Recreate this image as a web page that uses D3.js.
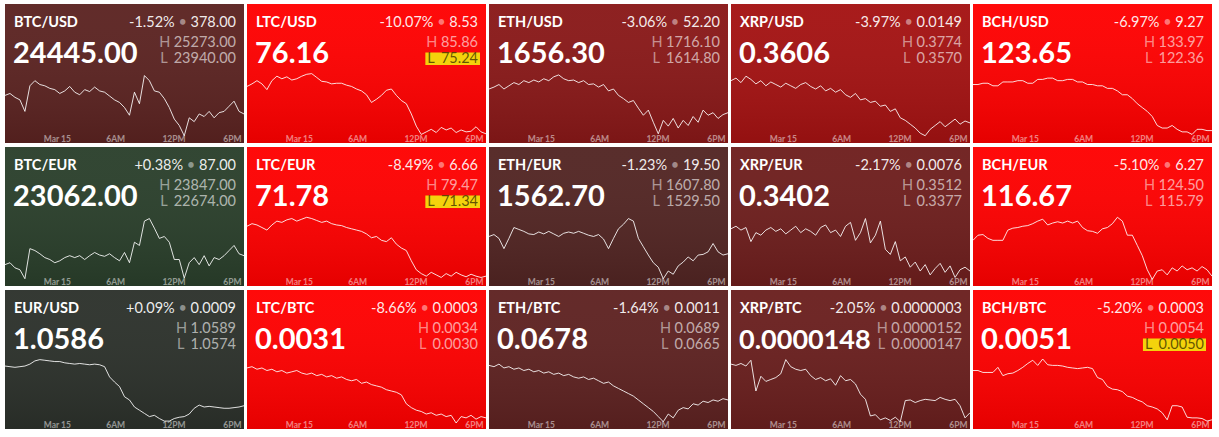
<!DOCTYPE html>
<html>
<head>
<meta charset="utf-8">
<script src="https://cdn.jsdelivr.net/npm/d3@7"></script>
<style>
  body { margin: 0; background: #fff; }
  svg { display: block; font-family: Lato, "Open Sans", sans-serif; }
</style>
</head>
<body>
<div id="board"></div>
<script>
var W = 1219, H = 437,
	tileW = 239,
	tileH = 139,
	pitchX = 242,
	pitchY = 143,
	left0 = 5,
	top0 = 4,
	cols = 5,
	rightX = 231;

// ticker values, row by row
var pairs = ["BTC/USD", "LTC/USD", "ETH/USD", "XRP/USD", "BCH/USD",
	"BTC/EUR", "LTC/EUR", "ETH/EUR", "XRP/EUR", "BCH/EUR",
	"EUR/USD", "LTC/BTC", "ETH/BTC", "XRP/BTC", "BCH/BTC"];
var lastPrices = ["24445.00", "76.16", "1656.30", "0.3606", "123.65",
	"23062.00", "71.78", "1562.70", "0.3402", "116.67",
	"1.0586", "0.0031", "0.0678", "0.0000148", "0.0051"];
var changePct = [-1.52, -10.07, -3.06, -3.97, -6.97,
	0.38, -8.49, -1.23, -2.17, -5.10,
	0.09, -8.66, -1.64, -2.05, -5.20];
var changeAbs = ["378.00", "8.53", "52.20", "0.0149", "9.27",
	"87.00", "6.66", "19.50", "0.0076", "6.27",
	"0.0009", "0.0003", "0.0011", "0.0000003", "0.0003"];
var highs = ["25273.00", "85.86", "1716.10", "0.3774", "133.97",
	"23847.00", "79.47", "1607.80", "0.3512", "124.50",
	"1.0589", "0.0034", "0.0689", "0.0000152", "0.0054"];
var lows = ["23940.00", "75.24", "1614.80", "0.3570", "122.36",
	"22674.00", "71.34", "1529.50", "0.3377", "115.79",
	"1.0574", "0.0030", "0.0665", "0.0000147", "0.0050"];
var lowAlert = [false, true, false, false, false,
	false, true, false, false, false,
	false, false, false, false, true];

// sparkline readings, position inside each day's range (0 = low, 100 = high)
var series = [
	[65,68,62,58,40,80,88,82,80,76,74,68,72,79,70,66,74,71,78,72,70,64,58,54,46,34,70,52,96,88,72,70,60,46,28,18,2,30,24,36,32,40,30,38,40,48,56,40,36],
	[79,83,88,83,74,88,95,91,94,89,91,95,98,99,93,87,86,83,84,84,81,79,75,72,66,54,59,65,73,75,65,57,52,36,17,4,8,12,7,15,11,14,7,11,8,9,16,8,5],
	[75,78,82,75,80,85,82,88,85,89,86,91,88,94,97,91,88,89,85,88,82,83,78,82,72,75,65,60,54,57,45,34,42,23,5,26,17,29,14,26,18,32,23,42,34,38,29,35,38],
	[88,92,85,95,90,83,88,80,86,82,78,84,80,76,82,85,79,75,80,72,76,70,74,66,62,68,58,60,54,56,48,50,40,44,30,26,20,14,6,2,12,18,24,16,22,28,20,25,22],
	[82,82,84,84,80,80,86,86,86,88,88,84,84,90,90,92,92,88,88,90,90,86,86,82,82,80,80,76,76,72,66,66,60,52,46,40,32,18,14,14,18,12,8,8,4,12,12,10,10],
	[24,27,19,16,2,49,46,41,35,32,27,30,35,38,35,38,32,38,43,39,37,41,35,30,43,27,59,54,92,96,81,65,68,59,32,32,3,27,35,24,38,22,35,32,38,46,54,41,38],
	[84,88,86,82,78,86,92,90,94,96,92,95,98,96,93,90,92,88,86,85,82,80,78,76,72,66,68,62,60,66,56,50,46,30,16,10,6,12,8,4,10,6,12,8,5,9,6,4,6],
	[68,71,65,49,65,82,79,76,72,71,75,72,76,72,68,73,75,73,76,73,70,68,71,64,49,65,80,87,96,92,65,52,39,27,20,2,14,9,22,28,36,30,39,40,44,57,44,39,41],
	[80,84,78,82,60,74,70,78,82,76,80,72,78,84,74,80,76,70,82,86,74,78,68,84,90,62,74,96,58,70,92,48,40,60,30,36,20,28,14,24,8,18,26,12,22,4,16,20,14],
	[62,70,71,65,62,62,62,78,81,82,84,85,88,92,95,86,89,91,89,92,89,92,82,77,76,73,80,82,88,98,92,70,70,54,38,16,1,14,16,8,19,14,22,16,19,14,21,16,6],
	[89,88,87,88,89,92,97,99,98,97,96,96,94,93,92,93,92,91,92,91,88,72,64,57,41,36,25,20,15,10,12,7,3,3,7,9,10,14,23,28,25,26,25,24,23,23,24,25,27],
	[86,88,84,86,82,84,80,82,78,80,82,78,76,78,74,76,72,74,70,72,68,66,68,62,64,60,58,56,52,50,48,44,30,24,20,18,14,16,12,14,10,12,0,10,8,12,6,10,8],
	[90,88,92,86,88,84,86,82,84,80,82,78,80,76,78,74,76,72,70,72,68,70,66,62,64,58,54,50,46,42,36,30,24,18,10,2,14,8,20,24,22,30,28,34,32,36,34,38,36],
	[92,90,93,89,98,50,73,65,68,71,77,99,88,84,82,84,74,68,71,66,69,59,74,66,68,61,45,37,11,13,5,8,4,9,2,35,36,32,35,37,36,35,40,37,35,37,27,8,16],
	[82,82,79,79,79,87,74,77,78,82,87,93,98,90,100,91,90,90,89,87,86,85,86,87,85,71,68,57,53,52,49,42,40,36,33,27,25,22,16,5,27,27,25,9,8,8,7,3,5]
];

var timeStart = new Date(2023, 2, 14, 18, 40),
	timeEnd = new Date(2023, 2, 15, 19, 15);
var tickTimes = [new Date(2023, 2, 15, 0), new Date(2023, 2, 15, 6),
	new Date(2023, 2, 15, 12), new Date(2023, 2, 15, 18)];
var tickLabels = ["Mar 15", "6AM", "12PM", "6PM"];

// moves past -5% turn the tile full red
var tileColor = d3.scaleLinear()
	.domain([-5, -4.9, 0, 2])
	.range(["#ff0000", "#c00c0c", "#2d2d2b", "#1f8a2a"])
	.clamp(true);

var x = d3.scaleTime().domain([timeStart, timeEnd]).range([0, tileW]);
var y = d3.scaleLinear().domain([0, 100]).range([133, 69]);

var line = d3.line()
	.x(function(d) { return x(d.t); })
	.y(function(d) { return y(d.v); });

var svg = d3.select("#board").append("svg")
	.attr("width", W)
	.attr("height", H);

var defs = svg.append("defs");
var shade = defs.append("linearGradient")
	.attr("id", "shade")
	.attr("x1", 0).attr("y1", 0).attr("x2", 0).attr("y2", 1);
shade.append("stop").attr("offset", "0%").attr("stop-color", "#fff").attr("stop-opacity", 0.04);
shade.append("stop").attr("offset", "100%").attr("stop-color", "#000").attr("stop-opacity", 0.1);

defs.append("clipPath").attr("id", "tileclip")
	.append("rect").attr("width", tileW).attr("height", tileH);

var tiles = svg.selectAll(".tile")
	.data(pairs)
	.enter().append("g")
	.attr("class", "tile")
	.attr("transform", function(d, i) {
		return "translate(" + (left0 + (i % cols) * pitchX) + "," + (top0 + Math.floor(i / cols) * pitchY) + ")";
	});

tiles.append("rect")
	.attr("width", tileW)
	.attr("height", tileH)
	.style("fill", function(d, i) { return tileColor(changePct[i]); });

tiles.append("rect")
	.attr("width", tileW)
	.attr("height", tileH)
	.style("fill", "url(#shade)");

tiles.each(drawTile);

function smallText(g, xx, yy, anchor) {
	return g.append("text")
		.attr("x", xx)
		.attr("y", yy)
		.attr("text-anchor", anchor)
		.style("font-size", "14.5px")
		.style("fill", "#fff");
}

function drawTile(pair, i) {
	var g = d3.select(this);
	var step = (timeEnd - timeStart) / (series[i].length - 1);
	var points = series[i].map(function(v, k) {
		return {t: new Date(+timeStart + k * step), v: v};
	});

	g.append("path")
		.datum(points)
		.attr("clip-path", "url(#tileclip)")
		.attr("d", line)
		.style("fill", "none")
		.style("stroke", "#fff")
		.style("stroke-opacity", 0.85)
		.style("stroke-width", 1);

	var axis = g.append("g")
		.attr("transform", "translate(0,129)")
		.call(d3.axisBottom(x)
			.tickValues(tickTimes)
			.tickSize(0)
			.tickPadding(0)
			.tickFormat(function(d, k) { return tickLabels[k]; }));
	axis.select(".domain").remove();
	axis.selectAll("text")
		.attr("y", 9)
		.attr("dy", 0)
		.style("font-family", "Lato")
		.style("font-size", "8.5px")
		.style("font-weight", "bold")
		.style("fill", "#fff")
		.style("fill-opacity", 0.5);

	g.append("text")
		.attr("x", 9)
		.attr("y", 23)
		.style("font-size", "14.5px")
		.style("font-weight", "bold")
		.style("fill", "#fff")
		.text(pair);

	var pct = changePct[i];
	var chg = smallText(g, rightX, 23, "end");
	chg.append("tspan").style("fill-opacity", 0.92)
		.text((pct >= 0 ? "+" : "-") + Math.abs(pct).toFixed(2) + "%");
	chg.append("tspan").style("fill-opacity", 0.45).text(" \u2022 ");
	chg.append("tspan").style("fill-opacity", 0.92).text(changeAbs[i]);

	// high / low numbers right aligned, their letters in one column
	var hiNum = smallText(g, rightX, 43, "end").style("fill-opacity", 0.62).text(highs[i]);
	var loNum = smallText(g, rightX, 59, "end").style("fill-opacity", 0.62).text(lows[i]);
	var numLeft = rightX - Math.max(hiNum.node().getComputedTextLength(), loNum.node().getComputedTextLength());
	var hiLab = smallText(g, numLeft - 3.5, 43, "end").style("fill-opacity", 0.5).text("H");
	var labLeft = numLeft - 3.5 - hiLab.node().getComputedTextLength();
	var loLab = smallText(g, labLeft + 1, 59, "start").style("fill-opacity", 0.5).text("L");

	// big last price, shrunk if it would run into the H / L column
	var price = g.append("text")
		.attr("x", 8)
		.attr("y", 59)
		.style("font-size", "29px")
		.style("font-weight", "bold")
		.style("fill", "#fff")
		.text(lastPrices[i]);
	var room = labLeft - 6 - 8;
	var pw = price.node().getComputedTextLength();
	if (pw > room) price.style("font-size", (29 * room / pw).toFixed(2) + "px");

	if (lowAlert[i]) {
		g.insert("rect", function() { return loNum.node(); })
			.attr("x", labLeft - 1)
			.attr("y", 48.5)
			.attr("width", rightX + 2 - (labLeft - 1))
			.attr("height", 12.5)
			.style("fill", "#f4d20c");
		loNum.style("fill", "#4a3d00").style("fill-opacity", 0.85);
		loLab.style("fill", "#4a3d00").style("fill-opacity", 0.85);
	}
}
</script>
</body>
</html>
